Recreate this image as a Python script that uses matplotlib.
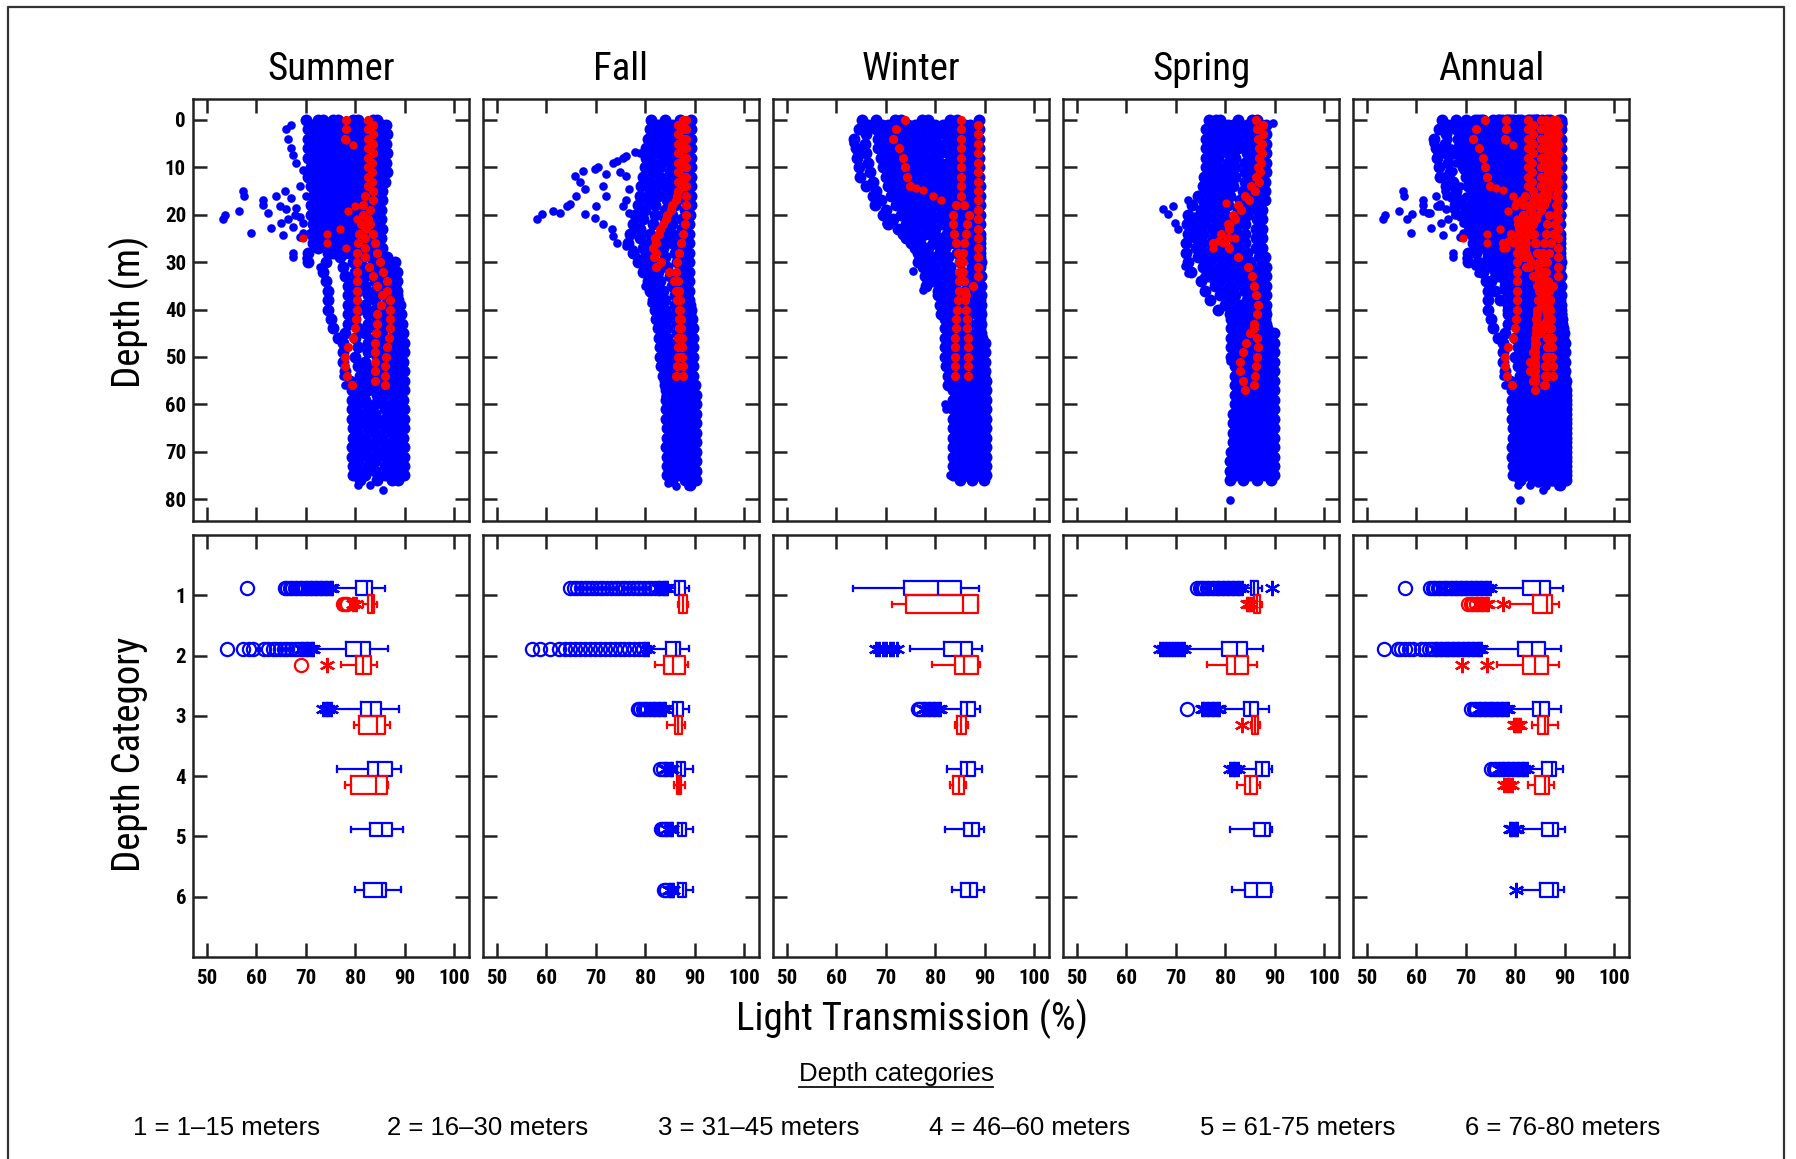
import numpy as np
import matplotlib.pyplot as plt
from matplotlib.lines import Line2D
from matplotlib import font_manager as fm

nan = np.nan

REGULAR = ['Liberation Sans', 'DejaVu Sans']


# the headings use a narrow sans face; pick the closest one that is installed
def narrow_font(bold):
    prefs = ['liberation sans narrow', 'arial narrow', 'noto sans', 'roboto', 'open sans', 'dejavu sans']
    best, best_score = None, None
    for f in fm.fontManager.ttflist:
        name = f.name.lower()
        st = f.stretch
        if isinstance(st, str):
            cond = st in ('condensed', 'semi-condensed', 'extra-condensed') or 'narrow' in name \
                or 'condensed' in name
            st_rank = {'condensed': 0, 'semi-condensed': 1, 'extra-condensed': 2}.get(st, 1)
        else:
            cond = st < 500 or 'narrow' in name or 'condensed' in name
            st_rank = 0 if 250 <= st <= 400 else 1
        if not cond or f.style != 'normal':
            continue
        w = f.weight if isinstance(f.weight, int) else (700 if 'bold' in str(f.weight) else 400)
        if (w >= 600) != bold or w > 800:
            continue
        fam = next((i for i, p in enumerate(prefs) if name.startswith(p)), len(prefs))
        score = (fam, st_rank)
        if best_score is None or score < best_score:
            best, best_score = f, score
    if best is None:
        return fm.FontProperties(family='Liberation Sans', weight='bold' if bold else 'normal'), False
    return fm.FontProperties(fname=best.fname), True


NARROW, HAVE_NARROW = narrow_font(False)
NARROW_BOLD, HAVE_NARROW_BOLD = narrow_font(True)
HEAD_SIZE = 28 if HAVE_NARROW else 25
TICK_SIZE = 15 if HAVE_NARROW_BOLD else 13

BLUE = '#0000ff'
RED = '#ff0000'

seasons = ["Summer", "Fall", "Winter", "Spring", "Annual"]
depth_ticks = [0, 10, 20, 30, 40, 50, 60, 70, 80]
trans_ticks = [50, 60, 70, 80, 90, 100]
categories = [1, 2, 3, 4, 5, 6]
category_labels = ["1 = 1\u201315 meters", "2 = 16\u201330 meters", "3 = 31\u201345 meters",
                   "4 = 46\u201360 meters", "5 = 61-75 meters", "6 = 76-80 meters"]

# ---------------------------------------------------------------
# CTD casts: (first depth in m, light transmission every 2 m below it)
# ---------------------------------------------------------------
summer_blue = [
    (0, [70, 70.5, 70.5, 70.5, 70.5, 71, 70.5, 71, 71.5, 71, 71, 71.5, 71, 71.5, 70.5, 70.5]),
    (1, [71.5, 71.5, 71.5, 72, 72, 72, 72, 72.5, 72.5, 72.5, 72.5, 72.5, 72.5, 72.5]),
    (0, [72.5, 72, 72.5, 73, 72.5, 73, 73, 73.5, 73, 73.5, 74, 73.5, 74, 74, 74.5, 74, 73.5, 74, 74.5, 74.5,
         74.5, 75, 75.5, 76.5]),
    (0, [73.5, 73.5, 73.5, 74, 74, 74, 74, 74.5, 74.5, 74.5, 75, 75, 75, 75, 75.5]),
    (1, [74.5, 75, 74.5, 75, 75.5, 75, 75.5, 75, 75.5, 76, 75.5, 76, 76.5, 76, 77, 77.5, 78, 78.5, 78.5, 78.5,
         78.5, 78.5, 78, 77.5, 77.5, 77.5, 78, 79, 79.3, 79.3, 79.3, 79.3, 79.5, 79.5, 79.3, 79.3, 79.5, 79.5]),
    (0, [75.5, 75.5, 76, 76, 76, 76.5, 76, 76.5, 76.5, 77, 77, 77, 77, 77.5, 78]),
    (0, [76.5, 77, 77, 76.5, 77, 77.5, 77, 77.5, 77.5, 78, 77.5, 78, 78, 78.5, 79, 79.5, 80, 80, 80.5, 80,
         80.5, 80, 80.5, 80, 80.5, 80, 80.5, 81, 81, 81, 80.5, 81, 81, 80.5, 81, 81, 80.5, 81, 81]),
    (1, [77.5, 78, 78, 78, 78, 78.5, 78.5, 78.5, 79, 79, 79, 79, 79.5, 80]),
    (1, [78.5, 79, 78.5, 79, 79, 79.5, 79, 79.5, 80, 79.5, 80, 80, 80.5, 81, 81.5, 81.5, 82, 82, 82.5, 82,
         82.5, 82.5, 82, 82.5, 82.5, 82, 82.5, 82.5, 82.5, 82, 82.5, 82.5, 82.5, 82, 82.5, 82.5, 82.5, 82]),
    (0, [79.5, 80, 80, 80, 80, 80.5, 80.5, 80.5, 80.5, 81, 81, 81, 81, 81.5, 82]),
    (0, [80.5, 81, 80.5, 81, 81, 81.5, 81, 81.5, 81.5, 81.5, 82, 82, 82.5, 82.5, 83, 83.5, 83.5, 84, 84, 84,
         84, 84.5, 84, 84, 84, 84.5, 84, 84, 84, 84.5, 84, 84, 84.5, 84, 84, 84.5, 84, 84, 84.5]),
    (1, [81.5, 82, 82, 82, 82, 82, 82.5, 82.5, 82.5, 82.5, 83, 83, 83, 83.5]),
    (1, [82.5, 83, 82.5, 83, 83, 83.5, 83, 83, 83.5, 83, 83.5, 83.5, 84, 84, 84.5, 85, 85.5, 85.5, 86, 86,
         86, 86, 85.5, 86, 86, 85.5, 86, 86, 86, 85.5, 86, 86, 86, 85.5, 86, 86, 86, 86]),
    (0, [83.5, 84, 84, 84, 84, 84, 83.5, 83, 83, 83, 83, 83, 83, 83.5, 84]),
    (0, [84.5, 84.5, 85, 84.5, 85, 85, 84.5, 84, 84, 84, 84, 83.5, 84, 84.5, 85, 85.5, 86.5, 87, 87.5, 87.5,
         87.5, 87.5, 87.5, 87.5, 87.5, 87.5, 87.5, 87.5, 87.5, 87.5, 87.5, 87.5, 87.5, 87.5, 87.5, 87.5, 87.5,
         87.5, 87.5]),
    (1, [85.5, 85.5, 85.5, 85.5, 85.5, 85.5, 85, 84.8, 84.5, 84.5, 84.5, 84.5, 84.8, 85.3]),
    (1, [86.3, 86.4, 86.2, 86.4, 86.3, 86.4, 86, 85.5, 85.5, 85.3, 85.3, 85.5, 85.3, 85.5, 86.5, 87, 87.5, 88,
         88.5, 89, 89.2, 89.5, 89.6, 89.8, 89.8, 89.7, 89.8, 89.8, 89.8, 89.7, 89.8, 89.8, 89.8, 89.7, 89.8,
         89.8, 89.8, 89.8]),
    (30, [88, 88.5, 88.5, 88.5, 88.7, 88.7, 88.7, 88.7, 88.7, 88.7, 88.7, 88.7, 88.7, 88.7, 88.7, 88.7, 88.7,
          88.7, 88.7, 88.7, 88.7, 88.7, 88.7, 88.7]),
]
summer_blue_x = [67, 66, 66.5, 67, 67.5, 68, 69.5, 70, 57.3, 57.6, 53.2, 53.6, 56.6, 59, 61.4, 61.4, 62.4,
                 63, 64, 65, 65.7, 65.4, 66.1, 67.4, 67.4, 68.8, 70.1, 68.1, 69.5, 70.1, 68.8, 67.1, 67.8,
                 64.7, 66.4, 68.8, 67.4, 69.5, 71.5, 72.8, 77.6, 77.9, 85.7, 80.5, 83]
summer_blue_d = [1, 2, 4, 6, 7.5, 9, 10.5, 11, 15.1, 16, 21, 20, 19.3, 23.9, 16.8, 17.9, 19.6,
                 22.8, 16.1, 21.8, 15, 24.2, 18.9, 28, 29, 14, 16.1, 18.6, 21.8, 29.2, 24.6, 16.5, 20,
                 18.2, 21, 20.4, 22.5, 23.9, 25.3, 31, 54, 56, 78, 77, 77]

summer_red = [
    (0, [78.2, 78.1, 78]),
    (0, [82.5, 82.5, 82.5, 82.5, 82.5, 82.5, 82.5, 82.5, 82, 81.6, 81.5, 81.2, 80.8, 80.6, 80.4, 80.3, 80.3,
         80.3, 80.3, 80.3, 80.3, 80.2, 80, 79.6, 78.6, 78, 78, 78.3, 79.3]),
    (1, [83.5, 83.5, 83.5, 83.5, 83.3, 83.3, 83.3, 83.5, 83.5, 83, 82.5, 82.2, 82, 82, 82, 82.8, 83.5, 84.5,
         85.5, 85.2, 84.5, 84.3, 84.2, 84, 84, 84, 84, 84]),
    (22, [83, 83.5, 84, 84.3, 85, 85.7, 86.4, 86.4, 87, 87, 87, 87, 86.8, 86.4, 86.2, 86, 86, 86]),
]
summer_red_x = [69.5, 74.2, 74.2, 76.9, 78.2, 78.6, 80, 80.3, 79.6, 78.2]
summer_red_d = [25, 24, 26, 23, 27, 19.3, 18.2, 21, 5.2, 4.2]

fall_blue = [
    (0, [81.2, 80.9, 80.5, 80.2, 80.2, 80, 79.5, 79.2, 79, 78.5, 78, 77.5, 77, 76.5, 77.5, 78.5, 79.5, 80.5,
         81, 81.5, 82, 82.2, 82.5, 82.8, 83, 83, 83.2, 83.5, 83.9]),
    (1, [82.5, 82.5, 82, 82, 81.5, 81.5, 81, 81, 80.5, 80, 79.5, 79, 79, 79.5, 80, 80.5, 81.5, 82, 82.5, 83,
         83, 83.5, 83.5, 83.5, 84, 84, 84, 84, 84.2, 84.2, 84.2, 84.2, 84.5, 84.5, 84.2, 84.5, 84.5, 84.5]),
    (0, [84, 84, 84, 83.5, 83.5, 83, 83, 82.5, 82.5, 82, 82, 81.5, 81, 81, 81.5, 82, 82.5, 83, 83.5, 84, 84,
         84.5, 84.5, 84.5, 85, 85, 85, 85, 85.5, 85.5, 85.5, 85.5, 85.5, 85.5, 85.5, 85.5, 85.5, 85.5, 85.5]),
    (1, [85.5, 85.5, 85.5, 85, 85, 85, 84.5, 84.5, 84.5, 84, 84, 83.5, 83.5, 83.5, 84, 84.5, 85, 85.5, 86,
         86, 86, 86.5, 86.5, 86.5, 86.5, 86.5, 86.5, 86.5, 86.5, 86.5, 86.5, 86.5, 86.5, 86.5, 86.5, 86.5,
         86.5, 86.5]),
    (0, [87, 87, 87, 87, 86.5, 86.5, 86.5, 86, 86, 86, 85.5, 85.5, 85.5, 85.5, 86, 86.5, 87, 87, 87.5, 87.5,
         87.5, 87.5, 87.5, 87.5, 87.5, 87.5, 87.5, 88, 88, 88, 88, 88, 88, 88, 88, 88, 88, 88, 88]),
    (1, [88.5, 88.5, 88.5, 88.5, 88.3, 88.3, 88.3, 88, 88, 88, 87.5, 87.5, 87.5, 87.5, 88, 88, 88.5, 88.5,
         88.5, 89, 89, 89, 89, 89, 89, 89, 89, 89, 89, 89, 89, 89, 89, 89, 89, 89, 89, 89, 89]),
    (0, [89.3, 89.3, 89.3, 89.3, 89.3, 89.3, 89.3, 89.3, 89.3, 89.3, 89, 88.9, 88.9, 88.9, 88.9, 88.9, 88.9,
         88.9, 88.9, 88.9, 89.3, 89.5, 89.6, 89.6, 89.6, 89.6, 89.6, 89.6, 90, 90.3, 90.3, 90.3, 90.3, 90.3,
         90.3, 90.3, 90.3, 90.3, 90.3]),
]
fall_blue_x = [78.9, 77.9, 76.2, 75.5, 74.2, 73.5, 70.5, 69.8, 67.4, 65.8, 66.8, 67.8, 66.1, 64.8, 64.1,
               62.8, 61.4, 59.1, 58.1, 67.8, 69.8, 71.5, 72.1, 70.1, 72.1, 74.8, 76.2, 76.8, 76.2, 75.5,
               76.8, 71.5, 73.2, 73.5, 74.2, 76.2, 77.5, 78.2, 79.5, 79.9, 80.9, 81.2, 82.2, 83.2, 84.2,
               83.9, 84.9, 84.6, 86.2, 88.6, 81.2, 80.9]
fall_blue_d = [6.9, 6.8, 7.6, 8, 8.7, 9, 9.9, 10.3, 10.8, 11.8, 13.2, 14.6, 16.1, 17.8, 18.2,
               19.6, 19.2, 19.9, 21, 19.9, 20.6, 13.9, 16.1, 18.2, 11.5, 11.1, 11.8, 14.6, 16.8, 18.2,
               19.6, 22, 23.1, 24.5, 25.9, 26.6, 27.3, 28.7, 31.5, 35, 36.5, 38.6, 42.1, 44.2, 56.9,
               58.3, 71, 76.6, 77.3, 77.3, 6.2, 3.4]

fall_red = [
    (0, [87.6, 87.6, 87.6, 87.6, 87.6, 87.6, 87.6, 87.6, 86.5, 85.5, 84.5, 83.6, 82.8, 82.2, 82.2, 83.2, 84.9,
         85.9, 86.2, 86.5, 86.9, 86.9, 86.8, 86.7, 86.6, 86.6, 86.4, 86.2]),
    (0, [88.3, 88.3, 88.3, 88.3, 88.3, 88.3, 88.3, 88.3, 88.3, 88.3, 88.3, 88, 87.6, 87.2, 86.9, 86.5, 86.2,
         86.7, 86.9, 87, 87.1, 87.2, 87.3, 87.4, 87.5, 87.5, 87.6, 87.6]),
    (1, [86.6, 86.6, 86.6, 86.6, 86.6, 86.6, 86.6, 86.6, 86.2, 85.2, 84.2, 83, 82, 81.5, 81.8, 82.2]),
]
fall_red_x = []
fall_red_d = []

winter_blue = [
    (0, [65.1, 64.5, 63.5, 64, 64.2, 64.5, 64.8, 66, 67.4, 67.8, 69.5, 70.5, 73.5, 75.2, 76.5, 76.5]),
    (1, [66.5, 66, 65.8, 66, 66.5, 66.8, 67.5, 68, 69, 70, 71.5, 72.5, 74, 76, 77, 77.5, 78, 78.2, 80.5, 81,
         81.2]),
    (0, [68, 68, 68.5, 68.5, 69, 69.5, 70, 70.5, 71, 72, 73, 74, 75.5, 77, 78, 78.5, 79, 79.5, 80.5, 81.5,
         81.5, 82, 82, 82, 82, 82, 82.2, 82.5, 82.5]),
    (1, [69.3, 69.5, 70, 70, 70.3, 70.8, 71.3, 71.8, 72.5, 73.5, 74.5, 75.5, 77]),
    (1, [70.5, 71, 71, 71.5, 71.5, 72, 72.5, 73, 73.5, 74, 75, 76, 77, 78.5, 79.5, 80, 80.5, 81, 82, 82.5, 83,
         83, 83, 83, 83, 83, 83.5, 83.5, 83.5, 83.5, 83.6, 83.6, 83.6, 83.6, 83.6, 83.6, 83.6, 83.6]),
    (0, [71.8, 72.2, 72.3, 72.7, 72.8, 73.3, 73.8, 74.3, 74.8, 75.3, 76, 77, 78, 79.5]),
    (0, [73, 73.5, 73.5, 74, 74, 74.5, 75, 75.5, 76, 76.5, 77, 78, 79, 80, 81, 81.5, 82, 82.5, 83, 83.5, 84,
         84, 84, 84, 84, 84, 84.5, 84.5, 84.5, 84.5, 85, 85, 85, 85, 85, 85, 85, 85, 85]),
    (1, [74.5, 74.8, 75, 75.3, 75.5, 75.8, 76.3, 76.8, 77.3, 77.8, 78.5, 79, 80, 81]),
    (1, [76, 76, 76.5, 76.5, 77, 77, 77.5, 78, 78.5, 79, 79.5, 80, 81, 82, 82.5, 83, 83.5, 84, 84.5, 85, 85,
         85.5, 85.5, 85.5, 85.5, 85.5, 86, 86, 86, 86, 86.5, 86.5, 86.5, 86.5, 86.5, 86.5, 86.5, 86.5]),
    (0, [77.3, 77.5, 77.8, 78, 78.3, 78.5, 79, 79.5, 80, 80.5, 81, 81.5, 82.3, 83]),
    (0, [78.5, 79, 79, 79.5, 79.5, 80, 80.5, 81, 81.5, 82, 82.5, 83, 83.5, 84, 84.5, 85, 85.5, 86, 86, 86.5,
         86.5, 86.5, 86.5, 87, 87, 87, 87, 87.5, 87.5, 87.5, 87.5, 87.5, 87.5, 87.5, 87.5, 87.5, 87.5, 87.5,
         87.5]),
    (1, [80, 80.5, 80.5, 81, 81, 81.5, 82, 82.5, 83, 83.5, 84, 84.5, 85, 85.5]),
    (1, [81.5, 82, 82, 82.5, 82.5, 83, 83.5, 84, 84.5, 85, 85.5, 86, 86.5, 87, 87, 87.5, 87.5, 88, 88, 88,
         88.5, 88.5, 88.5, 88.5, 88.5, 88.5, 88.5, 88.5, 88.7, 88.7, 88.7, 88.7, 88.7, 88.7, 88.7, 88.7,
         88.7, 88.7]),
    (0, [83, 83.3, 83.5, 83.8, 84, 84.3, 84.8, 85.3, 85.8, 86.3, 86.8, 87.2, 87.6, 88]),
    (0, [84.5, 84.5, 85, 85, 85.5, 85.5, 86, 86, 86.5, 86.5, 87, 87, 87.5, 87.5, 88, 88, 88.5, 88.5, 88.5,
         89, 89, 89, 89, 89.5, 89.5, 89.5, 89.5, 89.8, 89.8, 89.8, 89.8, 89.8, 89.8, 89.8, 89.8, 89.8, 89.8,
         89.8, 89.8]),
    (1, [86, 86, 86.3, 86.3, 86.5, 86.8, 87, 87.2, 87.5, 87.5, 87.8, 87.8, 88.2, 88.2]),
    (1, [87, 87, 87.5, 87.5, 87.5, 88, 88, 88, 88.5, 88.5, 88.5, 88.5, 89, 89, 89, 89, 89.3, 89.3, 89.3,
         89.3, 89.3, 89.3, 89.3, 90, 90, 90, 90, 90.2, 90.2, 90.2, 90.2, 90.2, 90.2, 90.2, 90.2, 90.2, 90.2,
         90.2]),
    (0, [88.9, 88.9, 88.9, 88.9, 88.9, 88.9, 88.9, 89, 89, 89, 89, 89, 89, 89, 89, 89.3]),
]
winter_blue_x = [81.9, 82.2, 82.9, 77.5, 78.2, 75.5, 75.2, 74.2, 70.1, 70.5, 63.4, 64.1]
winter_blue_d = [60, 61, 75, 35.8, 33.7, 31.9, 23.8, 22.4, 21.7, 20.6, 4.8, 6.9]

winter_red = [
    (0, [73.8, 72.1, 71.5, 72.6, 73.4, 73.8, 74.2, 74.8]),
    (0, [85.2, 85.2, 85.2, 85.2, 85.2, 85.2, 85.2, 85.2, 85.2, 84.2, 83.6, 83.6, 83.8, 84.2, 84.6, 84.9, 84.9,
         84.9, 84.8, 84.6, 84.4, 84.2, 84.1, 84, 83.9, 83.9, 83.9, 83.9]),
    (18, [85.8, 86.9, 86.5, 86.2, 85.9, 85.6, 85.6, 85.6, 85.8, 86, 86, 86.2, 86.4, 86.5, 86.6, 86.6, 86.6,
          86.6, 86.6]),
    (1, [88.6, 88.6, 88.6, 88.6, 88.6, 88.6, 88.6, 88.6, 88.6, 88.6, 88.6, 88.6, 88.6, 88.6, 88.6, 88.6,
         88.6, 87.6, 86.2]),
]
winter_red_x = [76.2, 77.5, 79.5, 81.2]
winter_red_d = [14.3, 14.8, 16, 16.8]

spring_blue = [
    (0, [76.8, 76.2, 76.2, 76.2, 76.2, 76.2, 75.8, 75.5, 74.5, 73.2, 72.5, 72.2, 72.5, 72, 72, 72.5, 73, 75,
         76, 77, 78.5, 81.2, 81.2, 81.2, 81.2, 81.2, 81.9, 81.9, 81.9, 81.9, 81.9, 81.5, 81.5, 81.5, 81.5,
         81.2, 81, 80.9, 80.9]),
    (1, [77.5, 77.5, 77.5, 77.5, 77.5, 77.2, 77, 76.5, 75.5, 75, 74, 74, 74, 74, 74.5, 75.5, 76.5, 78, 79,
         80, 81, 82, 82, 82, 82, 82.5, 82.5, 82.5, 82.5, 82.5, 82.5, 82.5, 82.5, 82.5, 82.2, 82.2, 82, 82]),
    (0, [78.2, 78.2, 78.2, 78, 78, 77.8, 77.5, 77, 76.5, 76, 75, 74.5, 74.8, 75, 75.5, 76, 77, 78]),
    (0, [79, 79, 79, 79, 78.5, 78.5, 78.5, 78, 77.5, 77, 76.5, 76, 75.5, 75.5, 76, 77, 78, 79, 80, 81, 82,
         82.5, 83, 83, 83.5, 83.5, 83.5, 83.5, 83.5, 83.5, 83.5, 83.5, 83.5, 83.5, 83.5, 83.5, 83.5, 83.5,
         83.5]),
    (1, [80.5, 80.5, 80.5, 80.5, 80.5, 80, 80, 79.5, 79, 78.5, 78, 77.5, 77.5, 77.5, 78, 79, 80, 81, 82, 83,
         83.5, 84, 84.5, 84.5, 84.5, 85, 85, 85, 85, 85, 85, 85, 85, 85, 85, 85, 85, 85]),
    (1, [81.5, 81.5, 81.5, 81.5, 81, 81, 81, 80.5, 80, 79.5, 79, 78.5, 78.5, 78.5, 79, 80, 81, 82]),
    (0, [82.5, 82.5, 82.5, 82.5, 82, 82, 82, 81.5, 81, 80.5, 80, 79.5, 79.5, 79.5, 80, 81, 82, 83, 84, 84.5,
         85, 85.5, 86, 86, 86, 86.5, 86.5, 86.5, 86.5, 86.5, 86.5, 86.5, 86.5, 86.5, 86.5, 86.5, 86.5, 86.5,
         86.5]),
    (1, [84.5, 84.5, 84.5, 84.5, 84, 84, 84, 83.5, 83, 82.5, 82, 81.5, 81.5, 81.5, 82, 83, 84, 85, 85.5, 86,
         86.5, 87, 87, 87.5, 87.5, 87.5, 87.5, 88, 88, 88, 88, 88, 88, 88, 88, 88, 88, 88]),
    (0, [85.5, 85.5, 85.5, 85.5, 85, 85, 85, 84.5, 84, 83.5, 83, 82.5, 82.5, 82.5, 83, 84, 85, 86]),
    (0, [86.5, 86.5, 86.5, 86.5, 86.5, 86.5, 86, 86, 85.5, 85, 84.5, 84, 84, 84, 84.5, 85, 86, 86.5, 87,
         87.5, 88, 88, 88.5, 88.5, 89, 89, 89, 89.3, 89.3, 89.3, 89.3, 89.3, 89.3, 89.3, 89.3, 89.3, 89.3,
         89.3, 89.3]),
    (1, [87.3, 87.3, 87.3, 87.3, 87.3, 87.3, 87, 87, 87, 86.5, 86.5, 86.3, 86.3, 86.3, 86.8, 87, 87.3, 87.5]),
    (1, [88.3, 88.3, 88.3, 88.3, 88.3, 88.3, 88, 88, 88, 87.5, 87.5, 87.5, 87.5, 87.5, 88, 88.3, 88.3, 88.3,
         88.3, 88.3, 88.3, 88.3, 89.9, 89.9, 89.9, 89.9, 89.9, 89.9, 89.9, 89.9, 89.9, 89.9, 89.9, 89.9, 89.9,
         89.9, 89.9, 89.9]),
]
spring_blue_x = [89.6, 67.4, 68.5, 69.5, 69.8, 70.5, 72.5, 73.8, 73.2, 71.8, 72.5, 75.8, 77.2, 80.9, 80.9,
                 81.5, 80.9]
spring_blue_d = [0.6, 18.9, 19.9, 18.2, 21.7, 23.1, 16.8, 20.3, 24.5, 30.8, 32.3, 33, 37.9, 50.9, 80.1,
                 73, 75.2]

spring_red = [
    (0, [86.2, 86.4, 86.6, 86.8, 86.9, 86.6, 86.2, 85.2, 84, 82.6, 81.5, 80.5, 79.2, 77.5]),
    (1, [87.6, 87.6, 87.5, 87.4, 87.3, 87.1, 86.8, 86.1, 84.8, 83.2, 81.9, 80.8, 80.5, 80.8, 82.6, 84.6, 85.4,
         85.9, 86.3, 86.6, 86.4, 85.9, 85, 84.2, 83.6, 82.9, 83, 83.5, 83.9]),
    (44, [85.9, 86.4, 86.6, 86.4, 86.2, 86, 85.9]),
]
spring_red_x = [80.2, 81, 82, 78.5, 79.5, 77.5]
spring_red_d = [17.5, 22, 25, 25.5, 26, 27]

# ---------------------------------------------------------------
# box plot summaries per depth category: (whisker low, Q1, median, Q3, whisker high)
# ---------------------------------------------------------------
summer_blue_box = [(75.8, 80.1, 82.3, 83.3, 86.0), (72.1, 78.2, 81.2, 82.9, 86.6), (75.5, 81.2, 83.1, 85.3, 88.9),
                   (76.3, 82.6, 84.7, 87.4, 89.3), (79.2, 82.9, 85.5, 87.4, 89.7), (79.9, 81.8, 85.5, 86.3, 89.2)]
summer_red_box = [(81.6, 82.6, 83.3, 83.7, 84.3), (77.2, 80.2, 81.6, 83.1, 84.3), (79.7, 80.8, 84.5, 86.0, 87.0),
                  (77.9, 79.2, 84.1, 86.4, 86.6)]
fall_blue_box = [(85.0, 86.0, 86.9, 88.0, 88.9), (81.0, 84.2, 86.2, 87.0, 88.9), (84.7, 85.7, 86.5, 87.6, 88.9),
                 (85.8, 86.4, 87.2, 88.0, 89.6), (85.8, 86.7, 87.4, 88.2, 89.6), (85.8, 86.7, 87.6, 88.2, 89.6)]
fall_red_box = [(86.7, 86.9, 87.7, 88.4, 88.7), (82.0, 83.7, 85.7, 88.0, 88.7), (84.5, 86.0, 86.7, 87.4, 88.0),
                (85.8, 86.5, 86.8, 87.2, 88.0)]
winter_blue_box = [(63.4, 73.6, 80.6, 85.2, 88.9), (74.8, 81.7, 85.2, 87.5, 89.4), (79.4, 85.2, 86.5, 88.0, 89.0),
                   (82.4, 85.2, 86.5, 88.0, 89.4), (81.9, 85.9, 87.5, 88.9, 89.8), (83.3, 85.2, 87.0, 88.4, 89.8)]
winter_red_box = [(71.3, 74.1, 85.6, 88.7, 88.7), (79.4, 84.0, 85.9, 88.7, 89.0), (84.0, 84.3, 85.2, 86.3, 86.6),
                  (83.0, 83.6, 84.8, 85.9, 86.3)]
spring_blue_box = [(84.0, 85.2, 85.9, 86.7, 87.4), (72.2, 79.3, 82.3, 84.5, 87.7), (80.0, 83.7, 85.0, 86.7, 88.9),
                   (83.0, 86.2, 87.4, 88.9, 89.4), (81.0, 85.9, 88.0, 89.1, 89.4), (81.4, 84.0, 86.5, 89.2, 89.4)]
spring_red_box = [(85.7, 85.9, 86.5, 87.0, 87.5), (76.3, 80.3, 82.0, 84.7, 86.4), (85.2, 85.4, 86.0, 86.7, 87.0),
                  (82.3, 83.9, 85.0, 86.4, 87.0)]
annual_blue_box = [(75.2, 81.5, 85.0, 87.0, 89.7), (73.3, 80.5, 83.3, 86.1, 89.2), (78.9, 83.5, 85.1, 86.8, 89.2),
                   (82.6, 85.5, 87.4, 88.2, 89.7), (81.6, 85.5, 87.7, 88.6, 90.0), (81.3, 85.1, 87.7, 88.6, 89.9)]
annual_red_box = [(78.9, 83.6, 86.4, 87.4, 88.9), (76.4, 81.5, 84.0, 86.6, 88.9), (83.3, 84.7, 86.0, 86.7, 88.6),
                  (82.6, 84.0, 86.0, 86.8, 87.9)]

# outliers: circles = far outside values, asterisks = outside values
summer_blue_circles = {1: [58.2, 65.8, 66.3, 66.8, 67.3, 67.8, 68.3, 68.8, 69.3, 69.8],
                       2: [54, 57.3, 58.5, 59.3, 61.5, 62.3, 63.3, 64, 64.8, 65.5, 66.2, 67, 67.8, 68.5]}
summer_blue_stars = {1: [70.3, 70.8, 71.3, 71.8, 72.3, 72.8, 73.3, 73.8, 74.3, 74.8, 75.3],
                     2: [69, 69.5, 70, 70.5, 71, 71.5], 3: [73.5, 74, 74.5, 75]}
summer_red_circles = {1: [77.5, 77.9, 78.3], 2: [69.1]}
summer_red_stars = {1: [79.5, 80.2], 2: [74.2]}

fall_blue_circles = {1: [64.8, 65.5, 66.2, 67, 67.8, 68.5, 69.3, 70, 70.8, 71.5, 72.3, 73, 73.8, 74.5, 75.3, 76,
                         76.8, 77.5, 78.3, 79, 79.8, 80.5, 81.2, 82],
                     2: [57.1, 58.8, 60.8, 62.5, 63.8, 64.8, 65.8, 66.8, 67.8, 68.8, 69.8, 70.8, 71.8, 72.8, 73.8,
                         74.8, 75.8, 76.8, 77.8, 78.8, 79.6],
                     3: [78.6, 79, 79.5, 80, 80.3], 4: [83, 83.5], 5: [83.1, 83.6, 84], 6: [83.7, 84.2]}
fall_blue_stars = {1: [82.5, 83, 83.5, 84, 84.5], 2: [80, 80.5], 3: [81, 81.5, 82, 82.5, 83, 83.5, 84],
                   4: [84, 84.5, 85, 85.5], 5: [84.5, 85, 85.5], 6: [84.8, 85.3, 85.6]}
fall_red_circles = {}
fall_red_stars = {}

winter_blue_circles = {3: [76.5, 77]}
winter_blue_stars = {2: [68, 68.7, 69.4, 70.1, 70.8, 71.5, 72.2],
                     3: [77.5, 78, 78.5, 79, 79.5, 80, 80.5, 81]}
winter_red_circles = {}
winter_red_stars = {}

spring_blue_circles = {1: [74.3, 74.8, 75.3, 75.8, 76.3, 76.8, 77.3, 77.8], 3: [72.2]}
spring_blue_stars = {1: [78.3, 78.8, 79.3, 79.8, 80.3, 80.8, 81.3, 81.8, 82.3, 82.8, 83.3, 89.4],
                     2: [66.8, 67.4, 68, 68.6, 69.2, 69.8, 70.4, 71, 71.6],
                     3: [75.3, 75.8, 76.3, 76.8, 77.3, 77.8, 78.3, 78.8], 4: [81, 81.5, 82, 82.5]}
spring_red_circles = {}
spring_red_stars = {1: [84.3, 84.8, 85.2], 3: [83.3]}

annual_blue_circles = {1: [57.8, 62.8, 63.3, 63.8, 64.3, 64.8, 65.3, 65.8, 66.3, 66.8],
                       2: [53.4, 56.3, 57, 57.8, 58.5, 59.3, 61, 61.8, 62.5, 63.2],
                       3: [71.1, 71.6, 72.1], 4: [75.2, 75.7, 76.2]}
annual_blue_stars = {1: [67.3, 67.8, 68.3, 68.8, 69.3, 69.8, 70.3, 70.8, 71.3, 71.8, 72.3, 72.8, 73.3, 73.8,
                         74.3, 74.8],
                     2: [63.7, 64.2, 64.7, 65.2, 65.7, 66.2, 66.7, 67.2, 67.7, 68.2, 68.7, 69.2, 69.7, 70.2,
                         70.7, 71.2, 71.7, 72.2, 72.7, 73],
                     3: [72.6, 73.1, 73.6, 74.1, 74.6, 75.1, 75.6, 76.1, 76.6, 77.1, 77.6, 78.1, 78.6],
                     4: [76.8, 77.3, 77.8, 78.3, 78.8, 79.3, 79.8, 80.3, 80.8, 81.3, 81.8, 82.3],
                     5: [78.9, 79.4, 79.9, 80.4], 6: [80.1]}
annual_red_circles = {1: [70.5, 71, 71.5, 72]}
annual_red_stars = {1: [72.5, 73, 73.5, 74, 74.5, 77.6], 2: [69.3, 74.2], 3: [79.8, 80.2, 80.6, 81],
                    4: [77.8, 78.3, 78.8, 79.3]}

# ---------------------------------------------------------------
# collect per panel (annual = all seasons together)
# ---------------------------------------------------------------
profiles = {
    "Summer": (summer_blue, summer_blue_x, summer_blue_d, summer_red, summer_red_x, summer_red_d),
    "Fall": (fall_blue, fall_blue_x, fall_blue_d, fall_red, fall_red_x, fall_red_d),
    "Winter": (winter_blue, winter_blue_x, winter_blue_d, winter_red, winter_red_x, winter_red_d),
    "Spring": (spring_blue, spring_blue_x, spring_blue_d, spring_red, spring_red_x, spring_red_d),
}
profiles["Annual"] = tuple(sum((profiles[s][k] for s in seasons[:4]), []) for k in range(6))

boxes = {
    "Summer": (summer_blue_box, summer_red_box, summer_blue_circles, summer_blue_stars,
               summer_red_circles, summer_red_stars),
    "Fall": (fall_blue_box, fall_red_box, fall_blue_circles, fall_blue_stars, fall_red_circles, fall_red_stars),
    "Winter": (winter_blue_box, winter_red_box, winter_blue_circles, winter_blue_stars,
               winter_red_circles, winter_red_stars),
    "Spring": (spring_blue_box, spring_red_box, spring_blue_circles, spring_blue_stars,
               spring_red_circles, spring_red_stars),
    "Annual": (annual_blue_box, annual_red_box, annual_blue_circles, annual_blue_stars,
               annual_red_circles, annual_red_stars),
}

# ---------------------------------------------------------------
# figure
# ---------------------------------------------------------------
W, H = 1796, 1159
fig = plt.figure(figsize=(W / 100, H / 100), dpi=100)


def px_axes(left, top, width, height):
    return fig.add_axes([left / W, 1 - (top + height) / H, width / W, height / H])


def style_axes(ax):
    for sp in ax.spines.values():
        sp.set_linewidth(1.8)
        sp.set_color('#222222')
    ax.tick_params(direction='in', length=10, width=1.8, top=True, right=True,
                   color='#222222', pad=5)
    for lab in ax.get_xticklabels() + ax.get_yticklabels():
        lab.set_fontproperties(NARROW_BOLD)
        lab.set_fontsize(TICK_SIZE)
        if not HAVE_NARROW_BOLD:
            lab.set_fontweight('bold')


def draw_casts(ax, casts, xs, ds, color, ms, ms_single):
    for start, vals in casts:
        d = start + 2 * np.arange(len(vals))
        ax.plot(vals, d, 'o', color=color, ms=ms, mew=0)
    ax.plot(xs, ds, 'o', color=color, ms=ms_single, mew=0)


def draw_boxes(ax, stats, offset, height, color, circles, stars):
    cats = categories[:len(stats)]
    bstats = [dict(whislo=s[0], q1=s[1], med=s[2], q3=s[3], whishi=s[4], fliers=[]) for s in stats]
    lp = dict(color=color, linewidth=1.6)
    ax.bxp(bstats, positions=[c + offset for c in cats], widths=height, capwidths=0.09,
           orientation='horizontal', showfliers=False, manage_ticks=False,
           boxprops=lp, whiskerprops=lp, capprops=lp, medianprops=lp)
    for c, vals in circles.items():
        ax.plot(vals, [c + offset] * len(vals), 'o', ms=9.5, mfc='none', mec=color, mew=1.6)
    for c, vals in stars.items():
        ax.plot(vals, [c + offset] * len(vals), marker=(6, 2, 0), ls='none', ms=11, color=color, mew=1.6)


def head(x, y, s, **kw):
    t = fig.text(x / W, 1 - y / H, s, ha='center', va='center', fontproperties=NARROW, **kw)
    t.set_fontsize(HEAD_SIZE)
    return t


LEFT0, PITCH, AW = 193, 290, 276
for k, name in enumerate(seasons):
    left = LEFT0 + k * PITCH

    # depth profiles
    ax = px_axes(left, 99, AW, 422)
    bc, bx, bd, rc, rx, rd = profiles[name]
    draw_casts(ax, bc, bx, bd, BLUE, 8.6, 6.2)
    draw_casts(ax, rc, rx, rd, RED, 6.6, 6.0)
    ax.set_xlim(47.2, 103)
    ax.set_ylim(84.6, -4.4)
    ax.set_xticks(trans_ticks)
    ax.set_xticklabels([])
    ax.set_yticks(depth_ticks)
    if k > 0:
        ax.set_yticklabels([])
    style_axes(ax)
    head(left + AW / 2, 70, name)

    # box plots by depth category
    ax2 = px_axes(left, 535, AW, 422)
    bb, rb, bcir, bstar, rcir, rstar = boxes[name]
    draw_boxes(ax2, bb, -0.115, 0.23, BLUE, bcir, bstar)
    draw_boxes(ax2, rb, 0.15, 0.3, RED, rcir, rstar)
    ax2.set_xlim(47.2, 103)
    ax2.set_ylim(7, 0)
    ax2.set_xticks(trans_ticks)
    ax2.set_yticks(categories)
    if k > 0:
        ax2.set_yticklabels([])
    style_axes(ax2)
    ax2.tick_params(axis='x', pad=9)

head(129, 312, "Depth (m)", rotation=90)
head(129, 754, "Depth Category", rotation=90)
head(912, 1019, "Light Transmission (%)")

# depth category key
key = fig.text(896 / W, 1 - 1074 / H, "Depth categories", ha='center', va='center', fontsize=18.5,
               family=REGULAR)
for cx, lab in zip([226, 488, 759, 1030, 1298, 1563], category_labels):
    fig.text(cx / W, 1 - 1128 / H, lab, ha='center', va='center', fontsize=18.5, family=REGULAR)

fig.canvas.draw()
bb = key.get_window_extent(fig.canvas.get_renderer())
inv = fig.transFigure.inverted()
(x0, y0), (x1, y1) = inv.transform([(bb.x0, bb.y0 - 1), (bb.x1, bb.y0 - 1)])
fig.add_artist(Line2D([x0, x1], [y0, y1], transform=fig.transFigure, color='#222222', lw=1.4))

# outer frame (left, top, right)
fx = [8 / W, 8 / W, 1784 / W, 1784 / W]
fy = [0, 1 - 7 / H, 1 - 7 / H, 0]
fig.add_artist(Line2D(fx, fy, transform=fig.transFigure, color='#333333', lw=1.6))

fig.savefig("out.png", dpi=100)
